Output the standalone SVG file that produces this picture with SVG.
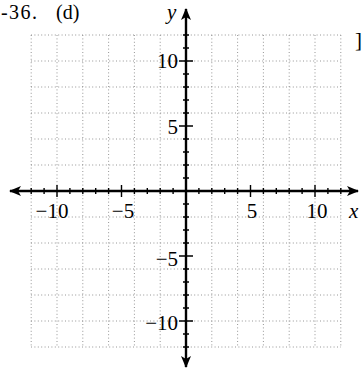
<svg xmlns="http://www.w3.org/2000/svg" width="362" height="370" viewBox="0 0 362 370">
<style>
.grid{stroke:#8a8a8a;stroke-width:0.9;stroke-dasharray:1 2.4;fill:none}
.axis{stroke:#000;stroke-width:2.4;fill:none}
.tick{stroke:#000;stroke-width:1.4;fill:none}
.lbl{font-family:"Liberation Serif","Times New Roman",serif;font-size:21px;fill:#000}
.top{font-size:20px}
.it{font-style:italic}
</style>
<defs>
<marker id="ah" viewBox="0 0 12 10" refX="11" refY="5" markerWidth="12" markerHeight="10" markerUnits="userSpaceOnUse" orient="auto">
<path d="M0,0 L12,5 L0,10 L3,5 Z" fill="#000"/>
</marker>
</defs>
<rect width="362" height="370" fill="#fff"/>
<g id="grid">
<path class="grid" d="M31.2,35V347M57,35V347M82.8,35V347M108.6,35V347M134.4,35V347M160.2,35V347M211.8,35V347M237.6,35V347M263.4,35V347M289.2,35V347M315,35V347M340.8,35V347"/>
<path class="grid" d="M31,35H341M31,61H341M31,87H341M31,113H341M31,139H341M31,165H341M31,217H341M31,243H341M31,269H341M31,295H341M31,321H341M31,347H341"/>
</g>
<g id="connectors">
<line id="x-axis-left" class="axis" x1="186" y1="191" x2="10" y2="191" marker-end="url(#ah)"/>
<line id="x-axis-right" class="axis" x1="186" y1="191" x2="358" y2="191" marker-end="url(#ah)"/>
<line id="y-axis-up" class="axis" x1="186" y1="191" x2="186" y2="9" marker-end="url(#ah)"/>
<line id="y-axis-down" class="axis" x1="186" y1="191" x2="186" y2="367" marker-end="url(#ah)"/>
<path class="tick" d="M31.2,188V194M44.1,188V194M69.9,188V194M82.8,188V194M95.7,188V194M108.6,188V194M134.4,188V194M147.3,188V194M160.2,188V194M173.1,188V194M198.9,188V194M211.8,188V194M224.7,188V194M237.6,188V194M263.4,188V194M276.3,188V194M289.2,188V194M302.1,188V194M327.9,188V194M340.8,188V194"/>
<path class="tick" d="M57,185V197M121.5,185V197M250.5,185V197M315,185V197"/>
<path class="tick" d="M183,35H189M183,48H189M183,74H189M183,87H189M183,100H189M183,113H189M183,139H189M183,152H189M183,165H189M183,178H189M183,204H189M183,217H189M183,230H189M183,243H189M183,269H189M183,282H189M183,295H189M183,308H189M183,334H189M183,347H189"/>
<path class="tick" d="M179,61H193M179,126H193M179,256H193M179,321H193"/>
</g>
<g id="labels">
<text class="lbl top" x="1" y="19" textLength="36" lengthAdjust="spacing">-36.</text>
<text class="lbl top" x="56" y="19">(d)</text>
<text class="lbl it" x="167" y="19">y</text>
<text class="lbl it" x="349" y="218">x</text>
<text class="lbl" x="355" y="47">]</text>
<text class="lbl" x="52" y="218" text-anchor="middle">−10</text>
<text class="lbl" x="123" y="218" text-anchor="middle">−5</text>
<text class="lbl" x="252" y="218" text-anchor="middle">5</text>
<text class="lbl" x="317" y="218" text-anchor="middle">10</text>
<text class="lbl" x="178" y="68" text-anchor="end">10</text>
<text class="lbl" x="178" y="134" text-anchor="end">5</text>
<text class="lbl" x="178" y="266" text-anchor="end">−5</text>
<text class="lbl" x="178" y="330" text-anchor="end">−10</text>
</g>
</svg>
